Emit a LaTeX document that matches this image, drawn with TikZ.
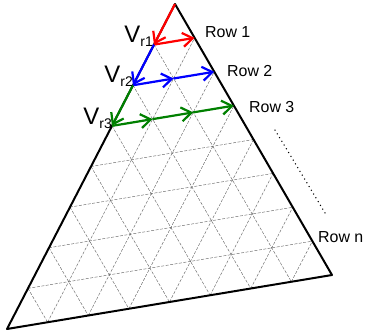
\documentclass[tikz,border=0pt]{standalone}
\usepackage{fontspec}
\setmainfont{Liberation Sans}
\usetikzlibrary{calc,arrows.meta}
\begin{document}
\begin{tikzpicture}[x=1bp,y=-1bp,
  edge/.style={line width=2bp, black, line join=round},
  gridline/.style={line width=0.45bp, black!60, dash pattern=on 3bp off 1.5bp},
  vec/.style={line width=2.2bp, -{Straight Barb[length=10bp,width=14bp]}},
  rowlabel/.style={font=\fontsize{16}{16}\selectfont, inner sep=0pt, anchor=base west},
  vlabel/.style={inner sep=0pt, anchor=base east},
  dotline/.style={line width=1.5bp, line cap=round, dash pattern=on 0bp off 4.4bp}]
\useasboundingbox (0,0) rectangle (365,333);
\coordinate (A) at (175,4);
\coordinate (B) at (7,329);
\coordinate (C) at (332,275);
% grid
\foreach \k in {1,...,7}{
  \draw[gridline] ($(A)!{\k/8}!(B)$) -- ($(A)!{\k/8}!(C)$);
  \draw[gridline] ($(B)!{\k/8}!(C)$) -- ($(A)!{\k/8}!(C)$);
  \draw[gridline] ($(A)!{\k/8}!(B)$) -- ($(B)!{1-\k/8}!(C)$);
}
% triangle
\draw[edge] (A) -- (B) -- (C) -- cycle;
% row points
\foreach \k in {1,2,3}{
  \coordinate (L\k) at ($(A)!{\k/8}!(B)$);
  \coordinate (R\k) at ($(A)!{\k/8}!(C)$);
}
\coordinate (M21) at ($(L2)!0.5!(R2)$);
\coordinate (M31) at ($(L3)!{1/3}!(R3)$);
\coordinate (M32) at ($(L3)!{2/3}!(R3)$);
% arrows
\draw[vec, red] (A) -- (L1);
\draw[vec, red] (L1) -- (R1);
\draw[vec, blue] (L1) -- (L2);
\draw[vec, blue] (L2) -- (M21);
\draw[vec, blue] (M21) -- (R2);
\draw[vec, green!50!black] (L2) -- (L3);
\draw[vec, green!50!black] (L3) -- (M31);
\draw[vec, green!50!black] (M31) -- (M32);
\draw[vec, green!50!black] (M32) -- (R3);
% vertex labels
\node[vlabel] (v1) at ($(L1)+(-1,-2)$) {\fontsize{24}{24}\selectfont V\raisebox{-4bp}{\fontsize{14}{14}\selectfont r1}};
\node[vlabel] (v2) at ($(L2)+(0,-3)$) {\fontsize{24}{24}\selectfont V\raisebox{-4bp}{\fontsize{14}{14}\selectfont r2}};
\node[vlabel] (v3) at ($(L3)+(0,-1)$) {\fontsize{24}{24}\selectfont V\raisebox{-4bp}{\fontsize{14}{14}\selectfont r3}};
% row labels
\node[rowlabel] (row1) at (205,37) {Row 1};
\node[rowlabel] (row2) at (227,76) {Row 2};
\node[rowlabel] (row3) at (249,112) {Row 3};
\node[rowlabel] (rown) at (318,242) {Row n};
% dots
\coordinate (d1) at (275,130);
\coordinate (d2) at (325,213);
\draw[dotline] (d1) -- (d2);
\end{tikzpicture}
\end{document}
